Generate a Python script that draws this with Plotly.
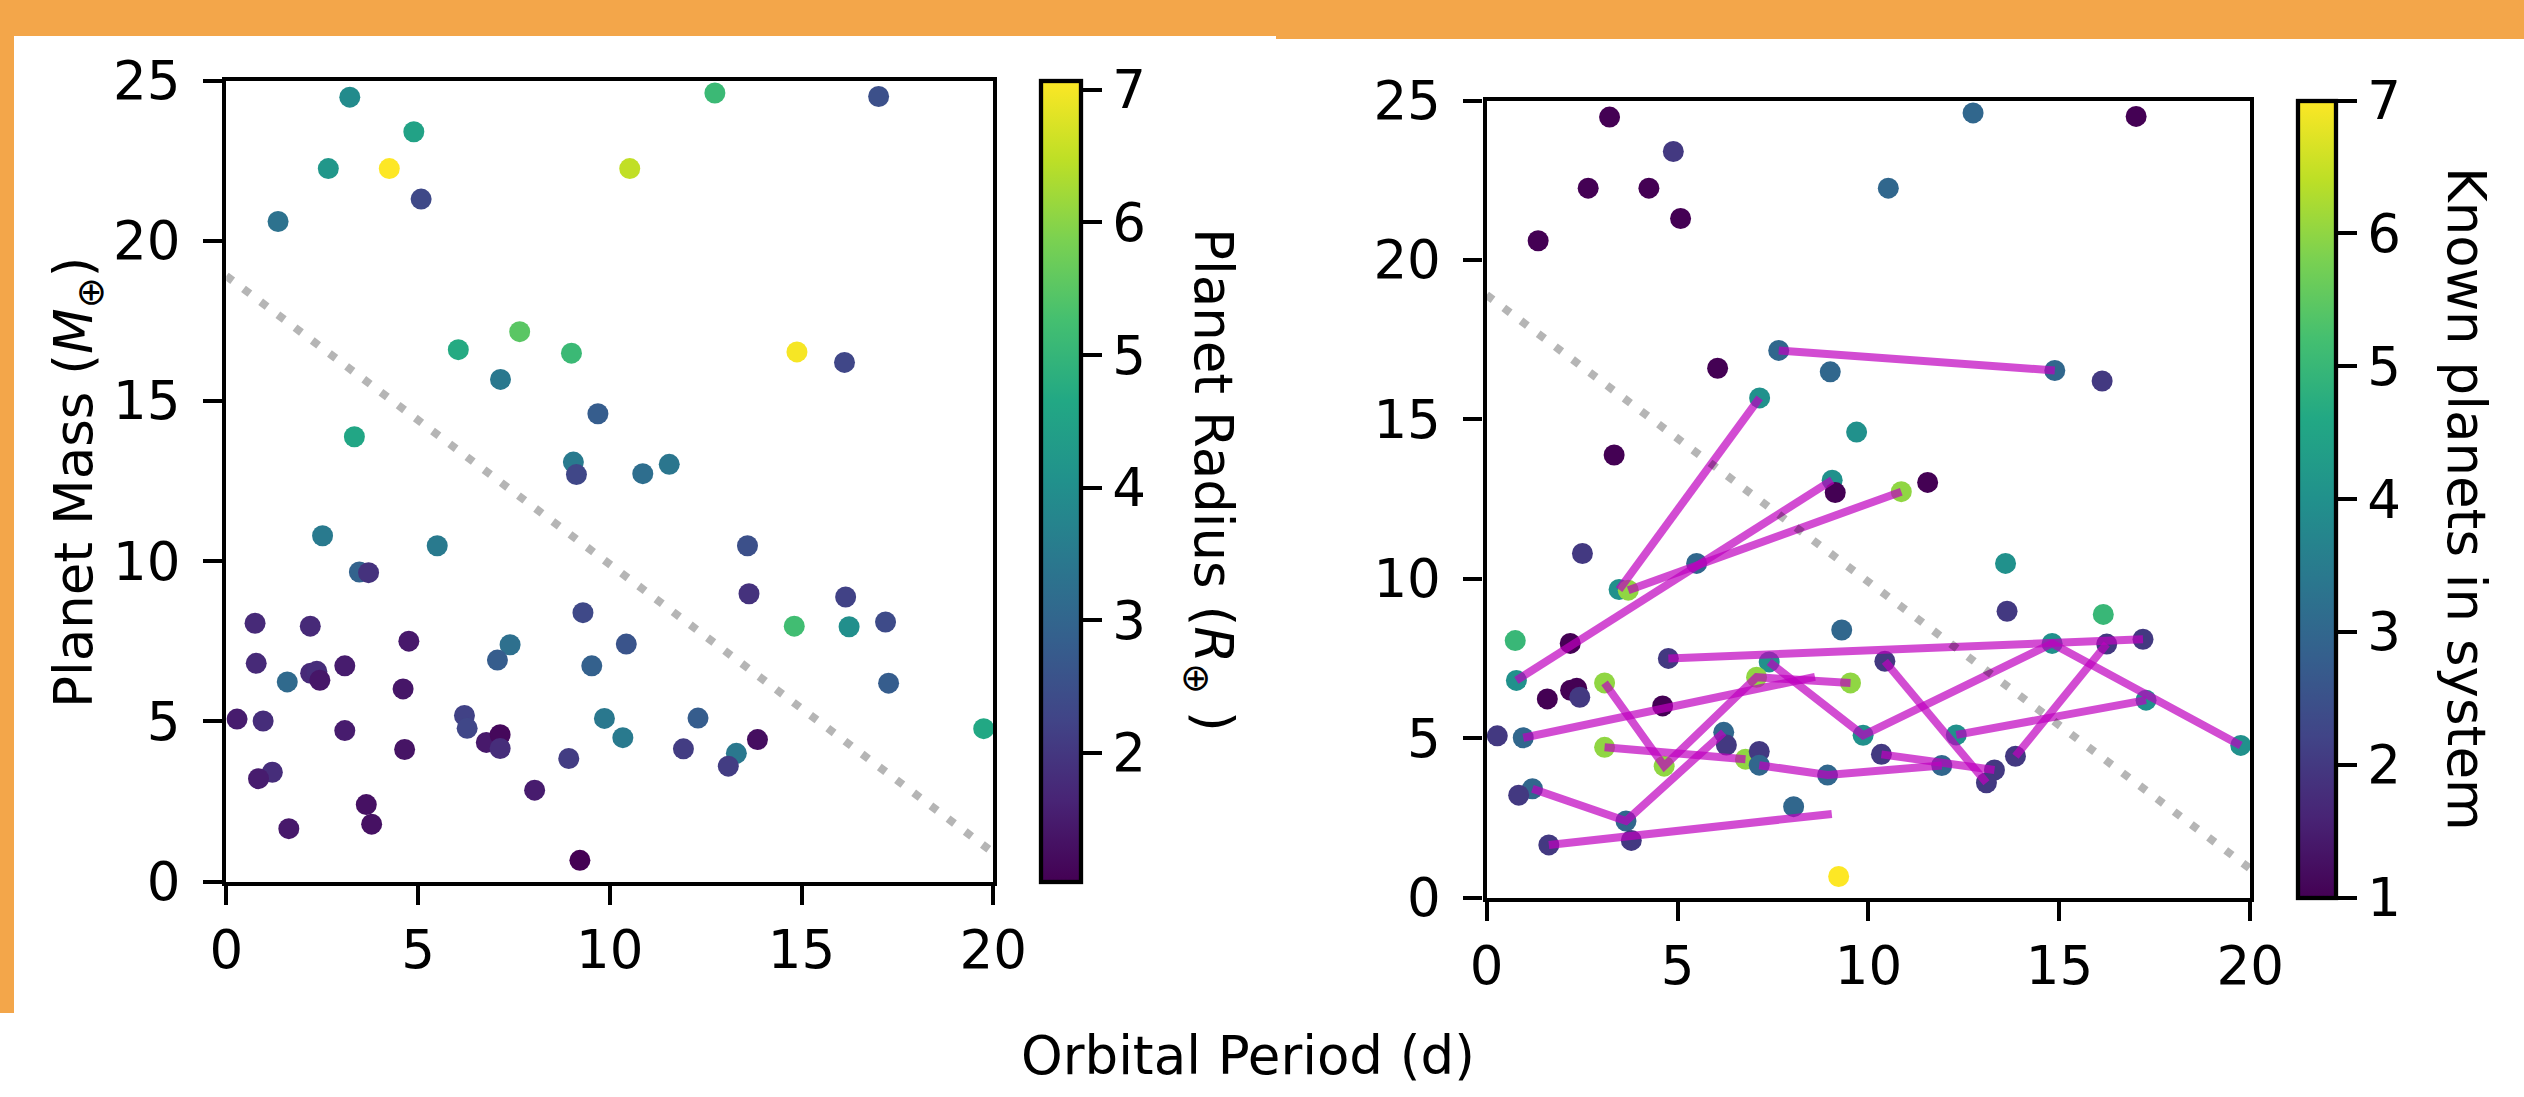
import plotly.graph_objects as go

W, H = 2524, 1097

# ---------------- data ----------------
period = [3.22, 12.74, 17.01, 4.89, 2.66, 4.25, 10.52, 5.08, 1.35, 7.65,
          6.05, 9.00, 14.88, 16.12, 7.15, 9.69, 3.34, 9.05, 9.13, 10.86,
          11.55, 2.51, 5.50, 3.47, 3.71, 13.59, 13.63, 16.15, 14.81, 16.24,
          17.19, 0.75, 2.19, 9.30, 4.76, 7.40, 10.43, 0.78, 7.07, 9.53,
          3.09, 2.20, 2.36, 2.44, 1.59, 17.27, 4.61, 0.28, 0.96, 6.21,
          6.28, 9.86, 12.30, 3.09, 10.34, 6.78, 7.14, 7.14, 4.65, 13.85,
          11.92, 13.30, 13.09, 8.93, 1.20, 0.84, 8.04, 3.65, 3.79, 1.63,
          9.22, 19.75]
mass = [24.48, 24.61, 24.50, 23.40, 22.25, 22.25, 22.25, 21.30, 20.60, 17.16,
        16.60, 16.49, 16.53, 16.20, 15.67, 14.60, 13.88, 13.09, 12.70, 12.73,
        13.02, 10.79, 10.48, 9.66, 9.64, 10.48, 8.98, 8.88, 7.97, 7.95,
        8.10, 8.06, 7.97, 8.39, 7.50, 7.39, 7.41, 6.81, 6.91, 6.73,
        6.73, 6.50, 6.56, 6.28, 6.23, 6.19, 6.01, 5.07, 5.01, 5.18,
        4.78, 5.09, 5.10, 4.71, 4.49, 4.34, 4.58, 4.15, 4.12, 4.43,
        4.14, 4.00, 3.60, 3.84, 3.41, 3.21, 2.85, 2.40, 1.79, 1.65,
        0.66, 4.77]
radius = [3.90, 5.10, 2.50, 4.50, 4.20, 7.07, 6.50, 2.35, 3.30, 5.50,
          4.70, 5.10, 7.00, 2.30, 3.45, 2.80, 4.60, 3.50, 2.30, 3.20,
          3.40, 3.50, 3.50, 2.95, 1.90, 2.50, 1.90, 2.20, 5.20, 4.00,
          2.40, 1.75, 1.75, 2.35, 1.45, 3.25, 2.60, 1.75, 2.80, 2.90,
          1.50, 1.75, 1.80, 1.40, 3.10, 2.80, 1.40, 1.50, 1.80, 2.20,
          2.30, 3.45, 2.80, 1.50, 3.50, 1.45, 1.15, 1.80, 1.35, 1.25,
          2.10, 3.45, 2.10, 2.10, 1.80, 1.50, 1.50, 1.30, 1.30, 1.45,
          1.03, 4.65]
n_known = [1, 3, 1, 2, 1, 1, 3, 1, 1, 3,
           1, 3, 3, 2, 4, 4, 1, 4, 1, 6,
           1, 2, 3, 4, 6, 4, 2, 5, 4, 2,
           2, 5, 1, 3, 2, 4, 2, 4, 6, 6,
           6, 1, 1, 2, 1, 4, 1, 2, 3, 3,
           2, 4, 4, 6, 2, 6, 2, 3, 6, 2,
           3, 2, 2, 3, 3, 2, 3, 3, 2, 2,
           7, 4]

# planets of the same system joined by lines (period, mass)
system_period = [[3.47, 7.15], [0.78, 9.05], [7.40, 9.86, 14.81, 19.75],
                 [12.30, 17.27], [3.71, 10.86], [3.09, 4.65, 7.07, 9.53],
                 [3.09, 6.78], [7.65, 14.88], [1.20, 3.65, 6.21],
                 [7.14, 8.93, 11.92], [0.96, 8.60], [4.76, 17.19],
                 [10.43, 13.09], [10.34, 13.30], [13.85, 16.24], [1.63, 9.04]]
system_mass = [[9.66, 15.67], [6.81, 13.09], [7.39, 5.09, 7.97, 4.77],
               [5.10, 6.19], [9.64, 12.73], [6.73, 4.12, 6.91, 6.73],
               [4.71, 4.34], [17.16, 16.53], [3.41, 2.40, 5.18],
               [4.15, 3.84, 4.14], [5.01, 6.92], [7.50, 8.10],
               [7.41, 3.60], [4.49, 4.00], [4.43, 7.95], [1.65, 2.62]]

boundary_period = [0, 20]
boundary_mass = [18.9, 0.9]

x_ticks = [0, 5, 10, 15, 20]
y_ticks = [0, 5, 10, 15, 20, 25]
radius_ticks = [2, 3, 4, 5, 6, 7]
n_ticks = [1, 2, 3, 4, 5, 6, 7]

# ---------------- styling ----------------
FONT = "DejaVu Sans"
FS = 53
ORANGE = "#F3A64A"
VIRIDIS = [[0.0, "#440154"], [0.1, "#482475"], [0.2, "#414487"], [0.3, "#355f8d"],
           [0.4, "#2a788e"], [0.5, "#21918c"], [0.6, "#22a884"], [0.7, "#44bf70"],
           [0.8, "#7ad151"], [0.9, "#bddf26"], [1.0, "#fde725"]]
LW = 4.3
MSIZE = 21


def fx(p):
    return p / W


def fy(p):
    return 1 - p / H


# axes pixel boxes
L_X0, L_X1, L_Y0, L_Y1 = 226.3, 993.3, 80.5, 881.5
R_X0, R_X1, R_Y0, R_Y1 = 1486.6, 2250.3, 100.5, 897.5

fig = go.Figure()

# left panel: coloured by radius
fig.add_trace(go.Scatter(
    x=period, y=mass, mode="markers", xaxis="x", yaxis="y",
    marker=dict(size=MSIZE, color=radius, colorscale=VIRIDIS,
                cmin=min(radius), cmax=max(radius), line=dict(width=0),
                showscale=True,
                colorbar=dict(x=fx(1041), xanchor="left", xpad=0, ypad=0,
                              y=fy((L_Y0 + L_Y1) / 2), yanchor="middle",
                              len=L_Y1 - L_Y0, lenmode="pixels",
                              thickness=40, thicknessmode="pixels",
                              outlinewidth=LW, outlinecolor="black",
                              ticks="outside", ticklen=19, tickwidth=LW,
                              tickcolor="black", tickvals=radius_ticks,
                              tickfont=dict(family=FONT, size=FS, color="black"))),
    showlegend=False, hoverinfo="skip"))

fig.add_trace(go.Scatter(
    x=boundary_period, y=boundary_mass, mode="lines", xaxis="x", yaxis="y",
    line=dict(color="rgba(0,0,0,0.29)", width=8, dash="8px,13.5px"),
    showlegend=False, hoverinfo="skip"))

# right panel: coloured by number of known planets
fig.add_trace(go.Scatter(
    x=period, y=mass, mode="markers", xaxis="x2", yaxis="y2",
    marker=dict(size=MSIZE, color=n_known, colorscale=VIRIDIS,
                cmin=min(n_known), cmax=max(n_known), line=dict(width=0),
                showscale=True,
                colorbar=dict(x=fx(2298), xanchor="left", xpad=0, ypad=0,
                              y=fy((R_Y0 + R_Y1) / 2), yanchor="middle",
                              len=R_Y1 - R_Y0, lenmode="pixels",
                              thickness=38, thicknessmode="pixels",
                              outlinewidth=LW, outlinecolor="black",
                              ticks="outside", ticklen=19, tickwidth=LW,
                              tickcolor="black", tickvals=n_ticks,
                              tickfont=dict(family=FONT, size=FS, color="black"))),
    showlegend=False, hoverinfo="skip"))

for sx, sy in zip(system_period, system_mass):
    fig.add_trace(go.Scatter(
        x=sx, y=sy, mode="lines", xaxis="x2", yaxis="y2",
        line=dict(color="rgba(191,0,191,0.7)", width=8),
        showlegend=False, hoverinfo="skip"))

fig.add_trace(go.Scatter(
    x=boundary_period, y=boundary_mass, mode="lines", xaxis="x2", yaxis="y2",
    line=dict(color="rgba(0,0,0,0.29)", width=8, dash="8px,13.5px"),
    showlegend=False, hoverinfo="skip"))

axis_common = dict(showline=True, linewidth=LW, linecolor="black", mirror=True,
                   ticks="outside", ticklen=19, tickwidth=LW, tickcolor="black",
                   showgrid=False, zeroline=False, automargin=False,
                   tickfont=dict(family=FONT, size=FS, color="black"))

fig.update_layout(
    width=W, height=H,
    margin=dict(l=0, r=0, t=0, b=0, pad=0, autoexpand=False),
    paper_bgcolor=ORANGE, plot_bgcolor="white",
    font=dict(family=FONT, size=FS, color="black"),
    xaxis=dict(domain=[fx(L_X0), fx(L_X1)], range=[0, 20], tickvals=x_ticks,
               anchor="y", **axis_common),
    yaxis=dict(domain=[fy(L_Y1), fy(L_Y0)], range=[0, 25], tickvals=y_ticks,
               anchor="x", ticklabelstandoff=12, **axis_common),
    xaxis2=dict(domain=[fx(R_X0), fx(R_X1)], range=[0, 20], tickvals=x_ticks,
                anchor="y2", **axis_common),
    yaxis2=dict(domain=[fy(R_Y1), fy(R_Y0)], range=[0, 25], tickvals=y_ticks,
                anchor="x2", ticklabelstandoff=12, **axis_common),
    shapes=[
        dict(type="rect", xref="paper", yref="paper", layer="below",
             x0=fx(14), x1=fx(1276), y0=0, y1=fy(36),
             fillcolor="white", line=dict(width=0)),
        dict(type="rect", xref="paper", yref="paper", layer="below",
             x0=0, x1=fx(15), y0=0, y1=fy(1013),
             fillcolor="white", line=dict(width=0)),
        dict(type="rect", xref="paper", yref="paper", layer="below",
             x0=fx(1275), x1=1, y0=0, y1=fy(39),
             fillcolor="white", line=dict(width=0)),
    ],
    annotations=[
        dict(text="Planet Mass (<i>M</i><sub>⊕</sub>)", xref="paper", yref="paper",
             x=fx(77), y=fy(483), xanchor="center", yanchor="middle",
             textangle=-90, showarrow=False, font=dict(family=FONT, size=FS)),
        dict(text="Orbital Period (d)", xref="paper", yref="paper",
             x=fx(1248), y=fy(1055), xanchor="center", yanchor="middle",
             showarrow=False, font=dict(family=FONT, size=FS)),
        dict(text="Planet Radius (<i>R</i><sub>⊕</sub> )", xref="paper", yref="paper",
             x=fx(1209), y=fy(480), xanchor="center", yanchor="middle",
             textangle=90, showarrow=False, font=dict(family=FONT, size=FS)),
        dict(text="Known planets in system", xref="paper", yref="paper",
             x=fx(2467), y=fy(499), xanchor="center", yanchor="middle",
             textangle=90, showarrow=False, font=dict(family=FONT, size=FS)),
    ],
)

fig.write_html("out.html",
               config={"displayModeBar": False},
               post_script="document.body.style.margin='0px';"
                           "document.body.style.overflow='hidden';")
